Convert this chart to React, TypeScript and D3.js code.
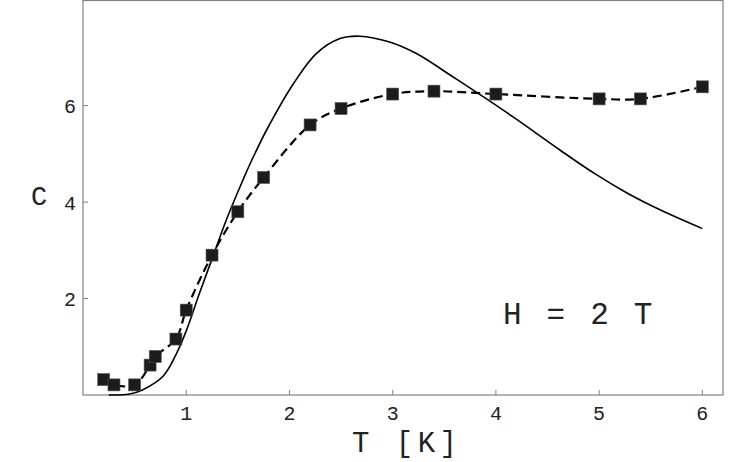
import React, { useEffect, useRef } from "react";
import * as d3 from "d3";

// measured heat capacity (squares)
const dataT = [0.2, 0.3, 0.5, 0.65, 0.7, 0.9, 1.0, 1.25, 1.5, 1.75, 2.2, 2.5, 3.0, 3.4, 4.0, 5.0, 5.4, 6.0];
const dataC = [0.32, 0.21, 0.21, 0.62, 0.8, 1.16, 1.76, 2.9, 3.8, 4.51, 5.6, 5.94, 6.24, 6.3, 6.24, 6.14, 6.14, 6.39];

// theory curve (solid)
const theoryT = [0.25, 0.45, 0.58, 0.78, 0.91, 1.0, 1.13, 1.26, 1.39, 1.55, 1.62, 1.78, 2.04, 2.26, 2.49, 2.68, 2.97, 3.23, 3.56, 3.88, 4.17, 4.62, 4.95, 5.27, 5.59, 6.0];
const theoryC = [0, 0.02, 0.11, 0.4, 0.88, 1.33, 2.12, 2.88, 3.64, 4.46, 4.8, 5.5, 6.46, 7.08, 7.39, 7.44, 7.32, 7.08, 6.63, 6.18, 5.76, 5.08, 4.6, 4.19, 3.84, 3.45];

const xTicks = [1, 2, 3, 4, 5, 6];
const yTicks = [2, 4, 6];

const App = () => {
  const svgRef = useRef<SVGSVGElement>(null);

  useEffect(() => {
    const width = 747;
    const height = 462;
    const margin = { top: 0.5, right: 24, bottom: 67, left: 83 };
    const svg = d3.select(svgRef.current);
    svg.selectAll("*").remove();

    const x = d3.scaleLinear().domain([0, 6.2]).range([margin.left, width - margin.right]);
    const y = d3.scaleLinear().domain([0, 8.18]).range([height - margin.bottom, margin.top]);

    const font = "'Liberation Mono', 'Courier New', monospace";
    const frame = "#808080";
    const ink = "#222";

    // frame
    svg.append("rect")
      .attr("x", x(0))
      .attr("y", y(8.18))
      .attr("width", x(6.2) - x(0))
      .attr("height", y(0) - y(8.18))
      .attr("fill", "none")
      .attr("stroke", frame)
      .attr("stroke-width", 1.2);

    // ticks
    svg.append("g").selectAll("line").data(xTicks).join("line")
      .attr("x1", (d) => x(d)).attr("x2", (d) => x(d))
      .attr("y1", y(0)).attr("y2", y(0) - 5)
      .attr("stroke", frame);
    svg.append("g").selectAll("line").data(yTicks).join("line")
      .attr("x1", x(0)).attr("x2", x(0) + 5)
      .attr("y1", (d) => y(d)).attr("y2", (d) => y(d))
      .attr("stroke", frame);

    svg.append("g").selectAll("text").data(xTicks).join("text")
      .attr("x", (d) => x(d))
      .attr("y", 420)
      .attr("text-anchor", "middle")
      .style("font-family", font)
      .style("font-size", "20px")
      .attr("fill", ink)
      .text((d) => d);
    svg.append("g").selectAll("text").data(yTicks).join("text")
      .attr("x", x(0) - 7)
      .attr("y", (d) => y(d) + 7.5)
      .attr("text-anchor", "end")
      .style("font-family", font)
      .style("font-size", "20px")
      .attr("fill", ink)
      .text((d) => d);

    // axis labels
    svg.append("text")
      .attr("x", 39).attr("y", 205)
      .attr("text-anchor", "middle")
      .style("font-family", font)
      .style("font-size", "27px")
      .attr("fill", ink)
      .text("C");
    svg.append("text")
      .attr("x", 352).attr("y", 452)
      .style("font-family", font)
      .style("font-size", "29px")
      .style("letter-spacing", "4.5px")
      .attr("fill", ink)
      .text("T [K]");
    svg.append("text")
      .attr("x", 503).attr("y", 324)
      .style("font-family", font)
      .style("font-size", "31px")
      .style("letter-spacing", "3.2px")
      .attr("fill", ink)
      .text("H = 2 T");

    // theory
    const theory = theoryT.map((t, i) => [t, theoryC[i]] as [number, number]);
    svg.append("path")
      .datum(theory)
      .attr("fill", "none")
      .attr("stroke", "#000")
      .attr("stroke-width", 1.6)
      .attr("d", d3.line<[number, number]>().x((d) => x(d[0])).y((d) => y(d[1])).curve(d3.curveCatmullRom)(theory));

    // measured
    const meas = dataT.map((t, i) => [t, dataC[i]] as [number, number]);
    svg.append("path")
      .datum(meas)
      .attr("fill", "none")
      .attr("stroke", "#000")
      .attr("stroke-width", 2.2)
      .attr("stroke-dasharray", "9,5")
      .attr("d", d3.line<[number, number]>().x((d) => x(d[0])).y((d) => y(d[1])).curve(d3.curveCatmullRom)(meas));

    const s = 12;
    svg.append("g").selectAll("rect").data(meas).join("rect")
      .attr("x", (d) => x(d[0]) - s / 2)
      .attr("y", (d) => y(d[1]) - s / 2)
      .attr("width", s)
      .attr("height", s)
      .attr("fill", "#1c1c1c")
      .attr("stroke", "#555")
      .attr("stroke-width", 0.6);
  }, []);

  return (
    <svg
      ref={svgRef}
      width={747}
      height={462}
      style={{ position: "absolute", left: 0, top: 0, background: "#fff" }}
    ></svg>
  );
};

export default App;
